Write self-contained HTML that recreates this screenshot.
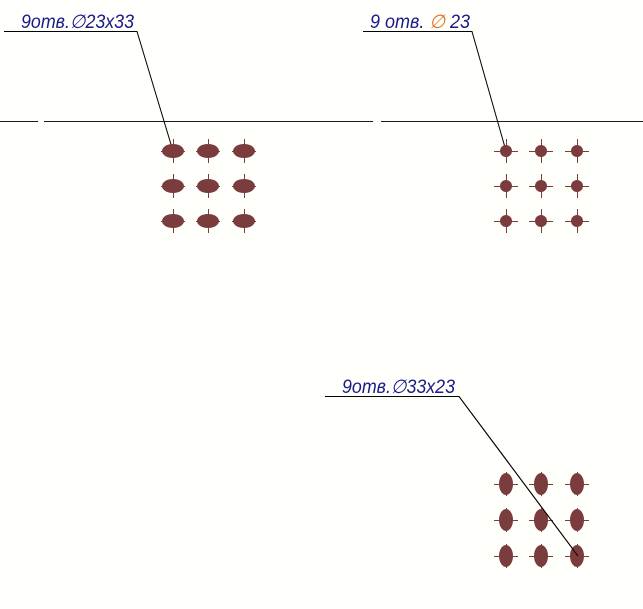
<!DOCTYPE html>
<html><head><meta charset="utf-8"><style>
html,body{margin:0;padding:0;background:#fffffb;}
svg{display:block}
text{font-family:"Liberation Sans",sans-serif;font-style:italic;font-size:19px;fill:#1a1a8a;}
</style></head><body>
<svg width="643" height="609" viewBox="0 0 643 609" xmlns="http://www.w3.org/2000/svg">
<rect width="643" height="609" fill="#fffffb"/>
<g stroke="#1a1a1a" stroke-width="1" fill="none">
<line x1="0" y1="121.5" x2="38" y2="121.5"/>
<line x1="44" y1="121.5" x2="373" y2="121.5"/>
<line x1="381" y1="121.5" x2="643" y2="121.5"/>
</g>
<g stroke="#000" stroke-width="1" fill="none">
<polyline points="4,31.5 137,31.5 173,151"/>
<polyline points="363,31.5 472,31.5 506,151"/>
<polyline points="325,396.5 459,396.5 578,556"/>
</g>
<text x="21" y="28" textLength="113" lengthAdjust="spacingAndGlyphs">9отв.∅23x33</text>
<text x="370" y="28" textLength="100" lengthAdjust="spacingAndGlyphs">9 отв. <tspan fill="#e07020">∅</tspan> 23</text>
<text x="342" y="393" textLength="113" lengthAdjust="spacingAndGlyphs">9отв.∅33x23</text>
<g id="g1" fill="#7a3c3c" stroke="#7a3c3c" stroke-width="1">
</g>
<g fill="#7a3c3c">
<!-- grid 1 -->
<ellipse cx="173" cy="151" rx="11" ry="7"/><ellipse cx="208" cy="151" rx="11" ry="7"/><ellipse cx="244" cy="151" rx="11" ry="7"/>
<ellipse cx="173" cy="186" rx="11" ry="7"/><ellipse cx="208" cy="186" rx="11" ry="7"/><ellipse cx="244" cy="186" rx="11" ry="7"/>
<ellipse cx="173" cy="221" rx="11" ry="7"/><ellipse cx="208" cy="221" rx="11" ry="7"/><ellipse cx="244" cy="221" rx="11" ry="7"/>
<!-- grid 2 -->
<circle cx="506" cy="151" r="6"/><circle cx="541" cy="151" r="6"/><circle cx="577" cy="151" r="6"/>
<circle cx="506" cy="186" r="6"/><circle cx="541" cy="186" r="6"/><circle cx="577" cy="186" r="6"/>
<circle cx="506" cy="221" r="6"/><circle cx="541" cy="221" r="6"/><circle cx="577" cy="221" r="6"/>
<!-- grid 3 -->
<ellipse cx="506" cy="484" rx="7" ry="11"/><ellipse cx="541" cy="484" rx="7" ry="11"/><ellipse cx="577" cy="484" rx="7" ry="11"/>
<ellipse cx="506" cy="520" rx="7" ry="11"/><ellipse cx="541" cy="520" rx="7" ry="11"/><ellipse cx="577" cy="520" rx="7" ry="11"/>
<ellipse cx="506" cy="556" rx="7" ry="11"/><ellipse cx="541" cy="556" rx="7" ry="11"/><ellipse cx="577" cy="556" rx="7" ry="11"/>
</g>
<g stroke="#7a3c3c" stroke-width="1">
<path d="M161 151.5h24M173.5 139v24M196 151.5h24M208.5 139v24M232 151.5h24M244.5 139v24
M161 186.5h24M173.5 174v24M196 186.5h24M208.5 174v24M232 186.5h24M244.5 174v24
M161 221.5h24M173.5 209v24M196 221.5h24M208.5 209v24M232 221.5h24M244.5 209v24"/>
<path d="M494 151.5h24M506.5 139v24M529 151.5h24M541.5 139v24M565 151.5h24M577.5 139v24
M494 186.5h24M506.5 174v24M529 186.5h24M541.5 174v24M565 186.5h24M577.5 174v24
M494 221.5h24M506.5 209v24M529 221.5h24M541.5 209v24M565 221.5h24M577.5 209v24"/>
<path d="M494 484.5h24M506.5 472v24M529 484.5h24M541.5 472v24M565 484.5h24M577.5 472v24
M494 520.5h24M506.5 508v24M529 520.5h24M541.5 508v24M565 520.5h24M577.5 508v24
M494 556.5h24M506.5 544v24M529 556.5h24M541.5 544v24M565 556.5h24M577.5 544v24"/>
</g>
<line x1="459" y1="396.5" x2="578" y2="556" stroke="#000" stroke-width="1"/>
</svg>
</body></html>
